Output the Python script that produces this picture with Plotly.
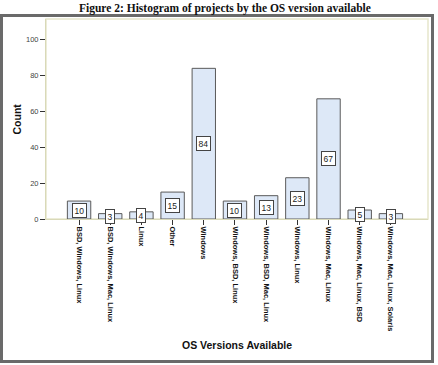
import plotly.graph_objects as go

categories = ["BSD, Windows, Linux", "BSD, Windows, Mac, Linux", "Linux", "Other",
              "Windows", "Windows, BSD, Linux", "Windows, BSD, Mac, Linux",
              "Windows, Linux", "Windows, Mac, Linux", "Windows, Mac, Linux, BSD",
              "Windows, Mac, Linux, Solaris"]
counts = [10, 3, 4, 15, 84, 10, 13, 23, 67, 5, 3]
y_ticks = [0, 20, 40, 60, 80, 100]

W, H = 438, 365
L, R, T, B = 46, 10, 19, 146
pw, ph = W - L - R, H - T - B

def px_x(px):
    return (px - L) / pw

def px_y(py):
    return (H - B - py) / ph

xs = list(range(len(categories)))

fig = go.Figure()
fig.add_trace(go.Bar(
    x=xs, y=counts, width=0.75,
    marker=dict(color="#dde8f7", line=dict(color="#5a5a5a", width=1)),
    hoverinfo="skip",
))

for x, v in zip(xs, counts):
    fig.add_annotation(x=x, y=v / 2, text=str(v), showarrow=False,
                       font=dict(family="Arial, Liberation Sans", size=8.5, color="#222"),
                       bgcolor="white", bordercolor="#444", borderwidth=1, borderpad=1.5)

fig.update_layout(
    width=W, height=H,
    margin=dict(l=L, r=R, t=T, b=B),
    paper_bgcolor="white", plot_bgcolor="white",
    showlegend=False,
    font=dict(family="Arial, Liberation Sans"),
    xaxis=dict(
        range=[-1.06, 11.19], tickmode="array", tickvals=xs,
        ticktext=["<b>" + c + "</b>" for c in categories],
        tickangle=90, ticks="outside", ticklen=5, tickcolor="#333",
        tickfont=dict(family="Arial, Liberation Sans", size=7.5, color="#111"),
        showline=True, linecolor="#d9d9b8", linewidth=1, showgrid=False, zeroline=False,
        title=None,
    ),
    yaxis=dict(
        range=[0, 111.5], tickmode="array", tickvals=y_ticks,
        ticks="outside", ticklen=5, tickcolor="#333",
        tickfont=dict(family="Arial, Liberation Sans", size=7.5, color="#444"),
        showline=True, linecolor="#d9d9b8", linewidth=1, showgrid=False, zeroline=False,
        title=None,
    ),
)

# plot area border
fig.add_shape(type="rect", xref="paper", yref="paper", x0=0, x1=1, y0=0, y1=1,
              line=dict(color="#e6e6cc", width=1.5), layer="below")
# outer frame
fig.add_shape(type="rect", xref="paper", yref="paper",
              x0=px_x(1.5), x1=px_x(432.5), y0=px_y(361.5), y1=px_y(15.5),
              line=dict(color="#6a6a6a", width=3))

fig.add_annotation(xref="paper", yref="paper", x=px_x(225), y=px_y(8),
                   text="<b>Figure 2: Histogram of projects by the OS version available</b>",
                   showarrow=False, xanchor="center", yanchor="middle",
                   font=dict(family="Liberation Serif, DejaVu Serif", size=11.5, color="#111"))
fig.add_annotation(xref="paper", yref="paper", x=px_x(237), y=px_y(345),
                   text="<b>OS Versions Available</b>", showarrow=False,
                   xanchor="center", yanchor="middle",
                   font=dict(family="Arial, Liberation Sans", size=10.5, color="#111"))
fig.add_annotation(xref="paper", yref="paper", x=px_x(16.5), y=px_y(119),
                   text="<b>Count</b>", showarrow=False, textangle=-90,
                   xanchor="center", yanchor="middle",
                   font=dict(family="Arial, Liberation Sans", size=10.5, color="#111"))

fig.write_html("out.html")
